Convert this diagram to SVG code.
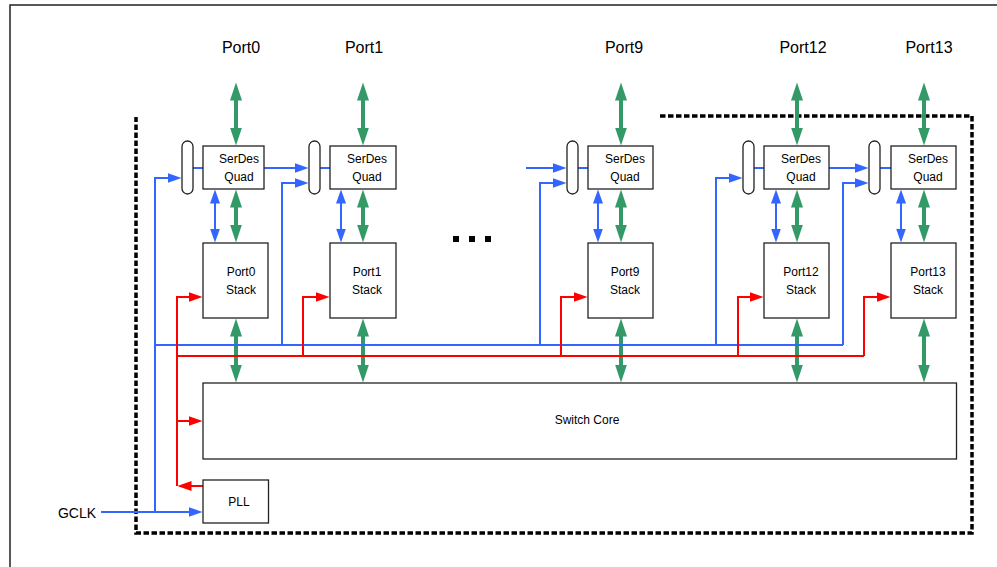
<svg xmlns="http://www.w3.org/2000/svg" width="997" height="567" viewBox="0 0 997 567">
<style>
text{font-family:"Liberation Sans",Arial,sans-serif;fill:#000;text-anchor:middle}
.lbl{font-size:16px}
.box{font-size:12px}
.bx{fill:#fff;stroke:#222;stroke-width:1.3}
.pill{fill:#fff;stroke:#222;stroke-width:1.3}
.g{stroke:#339966;stroke-width:4;fill:none}
.b{stroke:#3366ff;stroke-width:2;fill:none}
.r{stroke:#ff0000;stroke-width:2;fill:none}
</style>
<defs>
<marker id="mg" markerUnits="userSpaceOnUse" viewBox="0 0 18 12" markerWidth="18" markerHeight="12" refX="0.5" refY="6" orient="auto-start-reverse"><path d="M0,0 L18,6 L0,12 z" fill="#339966"/></marker>
<marker id="mb" markerUnits="userSpaceOnUse" viewBox="0 0 14 10" markerWidth="14" markerHeight="10" refX="0.5" refY="5" orient="auto-start-reverse"><path d="M0,0 L14,5 L0,10 z" fill="#3366ff"/></marker>
<marker id="mr" markerUnits="userSpaceOnUse" viewBox="0 0 14 10" markerWidth="14" markerHeight="10" refX="0.5" refY="5" orient="auto-start-reverse"><path d="M0,0 L14,5 L0,10 z" fill="#ff0000"/></marker>
</defs>
<rect width="997" height="567" fill="#fff"/>
<path d="M10,567 V5 H997" fill="none" stroke="#222" stroke-width="1.5"/>
<path id="boundary" d="M660,116 H972 V533 H136 V117" fill="none" stroke="#000" stroke-width="3.5" stroke-dasharray="5.5 2.5"/>

<g id="labels">
<text class="lbl" x="241" y="53">Port0</text>
<text class="lbl" x="364" y="53">Port1</text>
<text class="lbl" x="624" y="53">Port9</text>
<text class="lbl" x="803" y="53">Port12</text>
<text class="lbl" x="929" y="53">Port13</text>
<text x="77" y="518" style="font-size:14px">GCLK</text>
</g>

<g id="ellipsis" fill="#000">
<rect x="453" y="236" width="6" height="6"/>
<rect x="469" y="236" width="6" height="6"/>
<rect x="485" y="236" width="6" height="6"/>
</g>

<g id="connectors">
<!-- green top port arrows -->
<path class="g" d="M236,100 V128" marker-start="url(#mg)" marker-end="url(#mg)"/>
<path class="g" d="M363,100 V128" marker-start="url(#mg)" marker-end="url(#mg)"/>
<path class="g" d="M621,100 V128" marker-start="url(#mg)" marker-end="url(#mg)"/>
<path class="g" d="M797,100 V128" marker-start="url(#mg)" marker-end="url(#mg)"/>
<path class="g" d="M924,100 V128" marker-start="url(#mg)" marker-end="url(#mg)"/>
<!-- green serdes-stack -->
<path class="g" d="M236,207 V225" marker-start="url(#mg)" marker-end="url(#mg)"/>
<path class="g" d="M363,207 V225" marker-start="url(#mg)" marker-end="url(#mg)"/>
<path class="g" d="M621,207 V225" marker-start="url(#mg)" marker-end="url(#mg)"/>
<path class="g" d="M797,207 V225" marker-start="url(#mg)" marker-end="url(#mg)"/>
<path class="g" d="M924,207 V225" marker-start="url(#mg)" marker-end="url(#mg)"/>
<!-- green stack-core -->
<path class="g" d="M236,336 V365" marker-start="url(#mg)" marker-end="url(#mg)"/>
<path class="g" d="M363,336 V365" marker-start="url(#mg)" marker-end="url(#mg)"/>
<path class="g" d="M621,336 V365" marker-start="url(#mg)" marker-end="url(#mg)"/>
<path class="g" d="M797,336 V365" marker-start="url(#mg)" marker-end="url(#mg)"/>
<path class="g" d="M924,336 V365" marker-start="url(#mg)" marker-end="url(#mg)"/>
<!-- blue serdes-stack -->
<path class="b" d="M215,203 V229" marker-start="url(#mb)" marker-end="url(#mb)"/>
<path class="b" d="M341,203 V229" marker-start="url(#mb)" marker-end="url(#mb)"/>
<path class="b" d="M598,203 V229" marker-start="url(#mb)" marker-end="url(#mb)"/>
<path class="b" d="M776,203 V229" marker-start="url(#mb)" marker-end="url(#mb)"/>
<path class="b" d="M901,203 V229" marker-start="url(#mb)" marker-end="url(#mb)"/>
<!-- blue pill to serdes -->
<path class="b" d="M193,168 H203 M320,168 H330 M578,168 H588 M754,168 H764 M880,168 H891"/>
<!-- blue serdes out to next pill -->
<path class="b" d="M264,168 H295" marker-end="url(#mb)"/>
<path class="b" d="M829,168 H855" marker-end="url(#mb)"/>
<path class="b" d="M526,168 H553" marker-end="url(#mb)"/>
<!-- blue clock distribution -->
<path class="b" d="M155,345 H843"/>
<path class="b" d="M155,512 V178 H168" marker-end="url(#mb)"/>
<path class="b" d="M282,345 V183 H295" marker-end="url(#mb)"/>
<path class="b" d="M540,345 V183 H553" marker-end="url(#mb)"/>
<path class="b" d="M716,345 V178 H729" marker-end="url(#mb)"/>
<path class="b" d="M843,345 V183 H855" marker-end="url(#mb)"/>
<path class="b" d="M101,512 H189" marker-end="url(#mb)"/>
<!-- red clock distribution -->
<path class="r" d="M177,356 H864"/>
<path class="r" d="M177,486 V297 H189" marker-end="url(#mr)"/>
<path class="r" d="M177,421 H189" marker-end="url(#mr)"/>
<path class="r" d="M203,486 H191" marker-end="url(#mr)"/>
<path class="r" d="M303,356 V297 H316" marker-end="url(#mr)"/>
<path class="r" d="M561,356 V297 H574" marker-end="url(#mr)"/>
<path class="r" d="M738,356 V297 H750" marker-end="url(#mr)"/>
<path class="r" d="M864,356 V297 H877" marker-end="url(#mr)"/>
</g>

<g id="port0">
<rect class="pill" x="182" y="141" width="11" height="53" rx="5.5"/>
<rect class="bx" x="203" y="146" width="61" height="43"/>
<text class="box" x="239" y="163">SerDes</text><text class="box" x="239" y="181">Quad</text>
<rect class="bx" x="203" y="243" width="65" height="75"/>
<text class="box" x="241" y="276">Port0</text><text class="box" x="241" y="294">Stack</text>
</g>
<g id="port1">
<rect class="pill" x="309" y="141" width="11" height="53" rx="5.5"/>
<rect class="bx" x="330" y="146" width="66" height="43"/>
<text class="box" x="367" y="163">SerDes</text><text class="box" x="367" y="181">Quad</text>
<rect class="bx" x="330" y="243" width="66" height="75"/>
<text class="box" x="367" y="276">Port1</text><text class="box" x="367" y="294">Stack</text>
</g>
<g id="port9">
<rect class="pill" x="567" y="141" width="11" height="53" rx="5.5"/>
<rect class="bx" x="588" y="146" width="65" height="43"/>
<text class="box" x="625" y="163">SerDes</text><text class="box" x="625" y="181">Quad</text>
<rect class="bx" x="588" y="243" width="65" height="75"/>
<text class="box" x="625" y="276">Port9</text><text class="box" x="625" y="294">Stack</text>
</g>
<g id="port12">
<rect class="pill" x="743" y="141" width="11" height="53" rx="5.5"/>
<rect class="bx" x="764" y="146" width="65" height="43"/>
<text class="box" x="801" y="163">SerDes</text><text class="box" x="801" y="181">Quad</text>
<rect class="bx" x="764" y="243" width="65" height="75"/>
<text class="box" x="801" y="276">Port12</text><text class="box" x="801" y="294">Stack</text>
</g>
<g id="port13">
<rect class="pill" x="869" y="141" width="11" height="53" rx="5.5"/>
<rect class="bx" x="891" y="146" width="65" height="43"/>
<text class="box" x="928" y="163">SerDes</text><text class="box" x="928" y="181">Quad</text>
<rect class="bx" x="891" y="243" width="65" height="75"/>
<text class="box" x="928" y="276">Port13</text><text class="box" x="928" y="294">Stack</text>
</g>
<g id="switchcore">
<rect class="bx" x="203" y="383" width="753.5" height="76"/>
<text class="box" x="587" y="424">Switch Core</text>
</g>
<g id="pll">
<rect class="bx" x="203" y="480" width="65.5" height="43"/>
<text class="box" x="239" y="506">PLL</text>
</g>
</svg>
